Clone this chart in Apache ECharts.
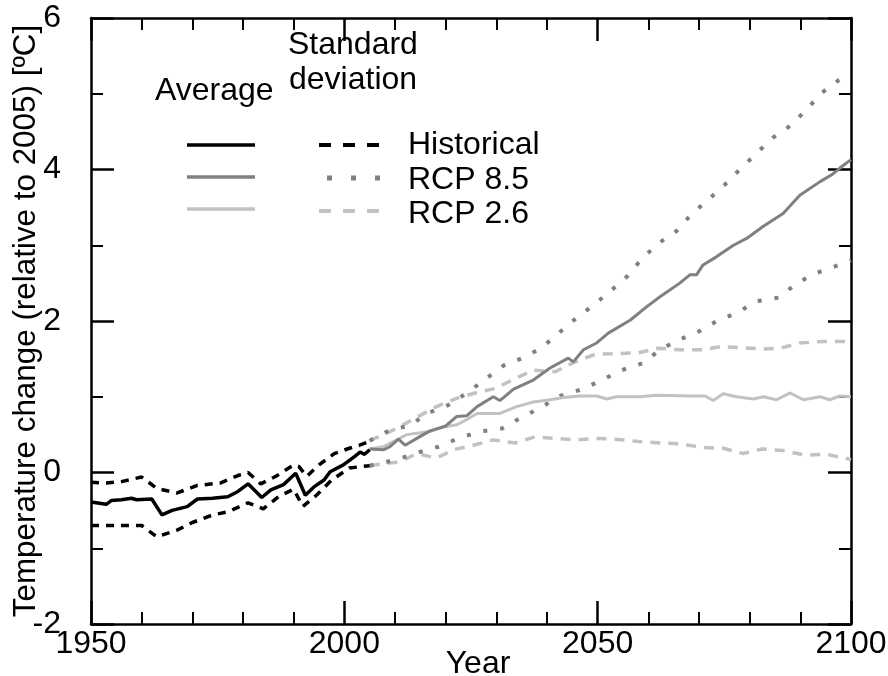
<!DOCTYPE html>
<html>
<head>
<meta charset="utf-8">
<script src="https://cdn.jsdelivr.net/npm/echarts@6/dist/echarts.min.js"></script>
<style>
  html, body { margin: 0; padding: 0; background: #fff; }
  #chart { width: 888px; height: 676px; }
</style>
</head>
<body>
<div id="chart"></div>
<script>
// Values, [year, temperature change in °C].
const histAvg = [[1950,-0.39],[1953,-0.42],[1954,-0.37],[1956,-0.36],[1958,-0.34],[1959,-0.36],[1962,-0.35],[1964,-0.56],[1966,-0.50],[1969,-0.45],[1971,-0.35],[1974,-0.34],[1977,-0.32],[1979,-0.25],[1981,-0.15],[1983.7,-0.33],[1985.5,-0.23],[1988,-0.16],[1990.4,-0.01],[1992.3,-0.30],[1994,-0.19],[1996,-0.10],[1997.2,0.01],[1999.8,0.10],[2002,0.21],[2003.1,0.27],[2004,0.24],[2005,0.30]];
const histUpper = [[1950,-0.13],[1953,-0.14],[1956,-0.12],[1960,-0.06],[1963,-0.21],[1967,-0.27],[1971,-0.17],[1975.5,-0.14],[1979,-0.04],[1981,0.0],[1983.5,-0.15],[1986.5,-0.05],[1990,0.10],[1991,0.08],[1992.6,-0.05],[1995,0.10],[1998,0.25],[2001,0.32],[2003,0.36],[2005,0.41]];
const histLower = [[1950,-0.70],[1955,-0.70],[1960,-0.70],[1963,-0.85],[1967,-0.76],[1970,-0.66],[1974,-0.56],[1977,-0.52],[1981,-0.40],[1984,-0.48],[1987,-0.32],[1990,-0.22],[1991.8,-0.45],[1994.5,-0.30],[1997.5,-0.10],[2001,0.06],[2005,0.09]];

const rcp85Avg = [[2005,0.31],[2007.7,0.30],[2009,0.34],[2010.7,0.44],[2012,0.36],[2014.3,0.45],[2016.9,0.55],[2019.9,0.61],[2022.2,0.74],[2024.2,0.75],[2026.2,0.87],[2029.4,1.00],[2030.7,0.95],[2033.4,1.10],[2037.3,1.22],[2040.6,1.38],[2044.2,1.51],[2045.2,1.46],[2047.2,1.62],[2049.8,1.71],[2052.1,1.84],[2056.4,2.01],[2059.7,2.19],[2062.3,2.32],[2066.2,2.50],[2068.2,2.61],[2069.5,2.61],[2070.8,2.74],[2073.5,2.85],[2076.8,3.00],[2079.4,3.09],[2082.7,3.25],[2086.6,3.42],[2089.9,3.66],[2093.9,3.84],[2096.2,3.93],[2098.2,4.04],[2100,4.13]];
const rcp85Upper = [[2005,0.42],[2009,0.56],[2013,0.62],[2016.3,0.78],[2020.5,0.89],[2024.2,1.05],[2027.8,1.23],[2031.4,1.41],[2035.5,1.52],[2039,1.65],[2042.3,1.84],[2045.8,2.04],[2049.2,2.21],[2052.6,2.40],[2056,2.60],[2058.8,2.83],[2062.1,3.03],[2065.6,3.19],[2068.5,3.41],[2071.8,3.60],[2075.1,3.80],[2078.2,4.01],[2081.3,4.21],[2084.6,4.42],[2088.1,4.58],[2091.2,4.79],[2094.2,5.01],[2097.6,5.18],[2100,5.26]];
const rcp85Lower = [[2005,0.09],[2006.3,0.11],[2010.3,0.17],[2014.3,0.26],[2018.6,0.34],[2022.5,0.45],[2026.8,0.54],[2031.1,0.58],[2034.8,0.72],[2038.8,0.86],[2042.6,1.01],[2047,1.10],[2050.8,1.22],[2054.7,1.35],[2058.8,1.44],[2062.1,1.61],[2065.6,1.74],[2069.7,1.85],[2073.5,2.00],[2077.6,2.11],[2081.3,2.26],[2085.8,2.31],[2089.1,2.49],[2093,2.63],[2096,2.70],[2100,2.80]];

const rcp26Avg = [[2005,0.31],[2007.7,0.34],[2012.3,0.50],[2016.9,0.54],[2019.5,0.60],[2022.2,0.63],[2024.2,0.70],[2026.2,0.78],[2030.7,0.78],[2034,0.87],[2037.3,0.93],[2040.6,0.96],[2043.3,0.99],[2046.5,1.01],[2049.8,1.01],[2051.8,0.97],[2053.7,1.00],[2058.4,1.00],[2061.6,1.02],[2068.2,1.01],[2071.2,1.01],[2072.8,0.95],[2074.8,1.04],[2077.4,1.00],[2080.7,0.97],[2082.7,1.00],[2085.3,0.96],[2088,1.05],[2090.6,0.96],[2093.9,1.00],[2095.8,0.96],[2097.8,1.01],[2100,1.00]];
const rcp26Upper = [[2005,0.42],[2010.3,0.58],[2014.3,0.73],[2018.2,0.87],[2022.2,0.98],[2025.8,1.05],[2029.8,1.11],[2033.7,1.24],[2037.3,1.35],[2041.6,1.33],[2045.5,1.46],[2049.5,1.56],[2053.4,1.57],[2058,1.58],[2062,1.64],[2066.2,1.62],[2070.8,1.62],[2074.1,1.66],[2078,1.65],[2082.4,1.63],[2086,1.64],[2089.9,1.71],[2094.5,1.73],[2098.5,1.73],[2100,1.66]];
const rcp26Lower = [[2005,0.09],[2008,0.12],[2011,0.14],[2014.3,0.25],[2018.2,0.19],[2021.5,0.30],[2025.5,0.36],[2029.4,0.43],[2033.7,0.39],[2037.6,0.47],[2041.6,0.45],[2045.5,0.43],[2049.5,0.45],[2053.4,0.44],[2058,0.41],[2062.3,0.39],[2066.2,0.38],[2070.8,0.33],[2074.8,0.32],[2078.7,0.25],[2082.4,0.31],[2086.6,0.29],[2090.9,0.23],[2095.2,0.24],[2098.8,0.19],[2100,0.17]];

const yearRange = [1950, 2100];
const tempRange = [-2, 6];

const FONT = 'Liberation Sans';
const FS = 32;
const BLACK = '#000000', GREY = '#808080', LIGHT = '#c2c2c2';

const line = (name, data, color, width, type) => ({
  name, type: 'line', data, showSymbol: false, symbol: 'none', animation: false,
  lineStyle: { color, width, type, cap: 'butt' }, z: 3,
});

// one axis (bottom/top/left/right); only bottom and left carry labels
const axis = (kind, position, range, interval, minorSplit, showLabel) => ({
  type: 'value', position, min: range[0], max: range[1], interval,
  axisLine: { show: true, onZero: false, lineStyle: { color: '#000', width: 2.5 } },
  axisTick: { show: true, inside: true, length: 23, lineStyle: { color: '#000', width: 2.5 } },
  minorTick: { show: true, splitNumber: minorSplit, length: 12, lineStyle: { color: '#000', width: 2 } },
  splitLine: { show: false },
  axisLabel: {
    show: showLabel, color: '#000', fontFamily: FONT, fontSize: FS,
    margin: kind === 'x' ? 4 : 30, formatter: (v) => String(v),
  },
});

const chart = echarts.init(document.getElementById('chart'), null, { renderer: 'canvas' });
chart.setOption({
  animation: false,
  grid: { left: 91, right: 37, top: 18, bottom: 52, containLabel: false, outerBoundsMode: 'none' },
  xAxis: [
    Object.assign(axis('x', 'bottom', yearRange, 50, 5, true), {
      name: 'Year', nameLocation: 'middle', nameGap: 24, nameMoveOverlap: false,
      nameTextStyle: { color: '#000', fontFamily: FONT, fontSize: FS, padding: [0, 0, 0, 14] },
    }),
    axis('x', 'top', yearRange, 50, 5, false),
  ],
  yAxis: [
    Object.assign(axis('y', 'left', tempRange, 2, 2, true), {
      name: 'Temperature change (relative to 2005) [ºC]', nameLocation: 'middle', nameGap: 49, nameMoveOverlap: false,
      nameTextStyle: { color: '#000', fontFamily: FONT, fontSize: 31.4 },
    }),
    axis('y', 'right', tempRange, 2, 2, false),
  ],
  series: [
    line('RCP 2.6 lower', rcp26Lower, LIGHT, 3.5, [10, 8]),
    line('RCP 2.6 upper', rcp26Upper, LIGHT, 3.5, [10, 8]),
    line('RCP 8.5 lower', rcp85Lower, GREY, 4, [4, 13]),
    line('RCP 8.5 upper', rcp85Upper, GREY, 4, [4, 13]),
    line('RCP 2.6', rcp26Avg, LIGHT, 3),
    line('RCP 8.5', rcp85Avg, GREY, 3),
    line('Historical lower', histLower, BLACK, 3.5, [8, 7]),
    line('Historical upper', histUpper, BLACK, 3.5, [8, 7]),
    line('Historical', histAvg, BLACK, 3.5),
  ],
  graphic: [
    { type: 'text', x: 155, y: 91, style: { text: 'Average', font: FS + 'px ' + FONT, fill: '#000', verticalAlign: 'middle' } },
    { type: 'text', x: 288, y: 45, style: { text: 'Standard', font: FS + 'px ' + FONT, fill: '#000', verticalAlign: 'middle' } },
    { type: 'text', x: 289, y: 80, style: { text: 'deviation', font: FS + 'px ' + FONT, fill: '#000', verticalAlign: 'middle' } },
    { type: 'line', shape: { x1: 187, y1: 145, x2: 255, y2: 145 }, style: { stroke: BLACK, lineWidth: 3.5 } },
    { type: 'line', shape: { x1: 187, y1: 177, x2: 255, y2: 177 }, style: { stroke: GREY, lineWidth: 3.5 } },
    { type: 'line', shape: { x1: 187, y1: 209, x2: 255, y2: 209 }, style: { stroke: LIGHT, lineWidth: 3.5 } },
    { type: 'line', shape: { x1: 319, y1: 145, x2: 381, y2: 145 }, style: { stroke: BLACK, lineWidth: 4, lineDash: [12, 12] } },
    { type: 'line', shape: { x1: 327, y1: 178, x2: 381, y2: 178 }, style: { stroke: GREY, lineWidth: 5, lineDash: [5, 19] } },
    { type: 'line', shape: { x1: 319, y1: 211, x2: 381, y2: 211 }, style: { stroke: LIGHT, lineWidth: 4, lineDash: [12, 12] } },
    { type: 'text', x: 408, y: 145, style: { text: 'Historical', font: FS + 'px ' + FONT, fill: '#000', verticalAlign: 'middle' } },
    { type: 'text', x: 408, y: 180, style: { text: 'RCP 8.5', font: FS + 'px ' + FONT, fill: '#000', verticalAlign: 'middle' } },
    { type: 'text', x: 408, y: 214, style: { text: 'RCP 2.6', font: FS + 'px ' + FONT, fill: '#000', verticalAlign: 'middle' } },
  ],
});
</script>
</body>
</html>
